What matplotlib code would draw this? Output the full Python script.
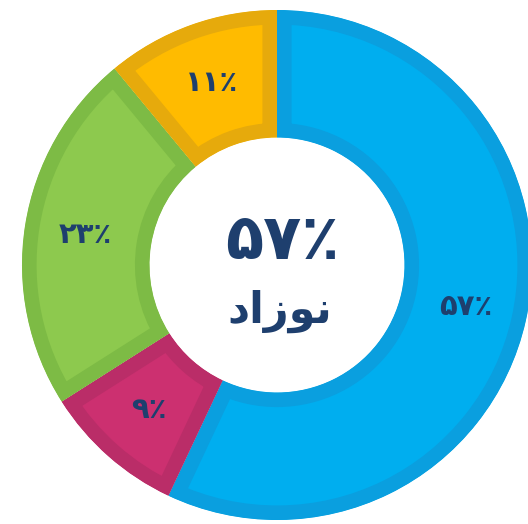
import numpy as np
import matplotlib.pyplot as plt

# share of each group, clockwise from the top
values = [57, 9, 23, 11]
pct_labels = ['۵۷٪', '۹٪', '۲۳٪', '۱۱٪']
face_colors = ['#00AEEF', '#CC3070', '#8DC94E', '#FFBB00']
edge_colors = ['#0A9FDF', '#BA2D68', '#7DBB45', '#E6AA0C']
center_value = '۵۷٪'
# "نوزاد" written in shaped presentation forms, visual order
center_word = '\uFEA9\uFE8D\uFEAF\uFEEE\uFEE7'

text_color = '#1E3F6E'

fig = plt.figure(figsize=(5.28, 5.24), dpi=100)
ax = fig.add_axes([0, 0, 1, 1])

wedges, _ = ax.pie(values, colors=face_colors, startangle=90, counterclock=False,
                   radius=1.0, wedgeprops=dict(width=0.5))

# darker border drawn only on the inner side of each slice
for w, ec in zip(wedges, edge_colors):
    w.set_edgecolor(ec)
    w.set_linewidth(21)
    w.set_clip_on(True)  # pie turns clipping off
    w.set_clip_path(w)

# percent labels at the middle of each slice
total = sum(values)
start = 90.0
for v, lab in zip(values, pct_labels):
    mid = np.deg2rad(start - v / total * 360 / 2)
    start -= v / total * 360
    r = 0.76
    ax.text(r * np.cos(mid), r * np.sin(mid), lab, ha='center', va='center',
            color=text_color, fontsize=21, fontweight='bold', family='DejaVu Sans')

ax.text(0.02, 0.09, center_value, ha='center', va='center', color=text_color,
        fontsize=45, fontweight='bold', family='DejaVu Sans')
ax.text(0.01, -0.18, center_word, ha='center', va='center', color=text_color,
        fontsize=31, fontweight='bold', family='DejaVu Sans')

ax.set_xlim(-277 / 255, 251 / 255)
ax.set_ylim(-259 / 255, 265 / 255)
ax.set_aspect('auto')
ax.axis('off')

fig.savefig('out.png', dpi=100)
